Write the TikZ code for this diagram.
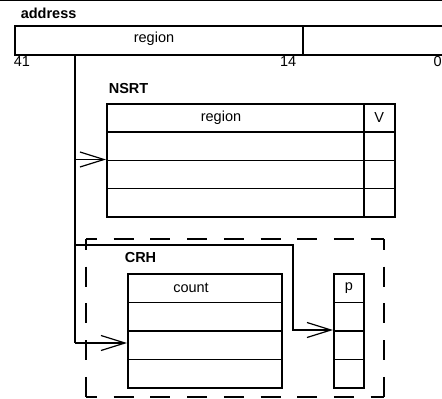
\documentclass[tikz,border=0pt]{standalone}
\usepackage{fontspec}
\setmainfont{Liberation Sans}
\usetikzlibrary{arrows.meta}
\begin{document}
\begin{tikzpicture}[x=1pt,y=-1pt,
  line width=1.6pt,
  every node/.style={font=\fontsize{14.5}{16}\selectfont, inner sep=0pt},
  cell/.style={draw, line width=1.6pt, anchor=north west, minimum height=28.5pt},
  lbl/.style={font=\fontsize{14.5}{16}\selectfont\bfseries, anchor=west},
  num/.style={anchor=center},
  arr/.style={-{Straight Barb[length=24pt,width=15pt,line width=1.2pt]}},
  frame/.style={draw, dash pattern=on 20pt off 16.7pt, dash phase=9pt, line width=1.6pt}
]
\useasboundingbox (0,0) rectangle (442,399);
% top rule
\draw[line width=1.2pt] (0,0.8) coordinate (t1) -- (442,0.8) coordinate (t2);

% address
\node[lbl] (addrlbl) at (20,13) {address};
\node[cell, minimum width=288pt, minimum height=29pt] (a1) at (14,25) {};
\node[cell, minimum width=141pt, minimum height=29pt] (a2) at (302,25) {};
\node (a1t) at (154,39) {region};
\node[num] (n41) at (22,62) {41};
\node[num, anchor=east] (n14) at (297,62) {14};
\node[num, anchor=east] (n0) at (442.5,62) {0};

% NSRT
\node[lbl] (nsrtlbl) at (108,89) {NSRT};
\foreach \i/\y in {1/103,2/131.25,3/159.5,4/187.75}{
  \node[cell, minimum width=257pt, minimum height=28.25pt] (r\i) at (106,\y) {};
  \node[cell, minimum width=31pt, minimum height=28.25pt] (v\i) at (363,\y) {};
}
\node (r1t) at (221,117.5) {region};
\node (v1t) at (v1.center) {V};

% CRH frame
\coordinate (f1) at (86,239);
\coordinate (f2) at (384,239);
\coordinate (f3) at (384,397);
\coordinate (f4) at (86,397);
\draw[frame] (f1) -- (f2);
\draw[frame] (f4) -- (f3);
\draw[frame] (f1) -- (f4);
\draw[frame] (f2) -- (f3);
\node[lbl] (crhlbl) at (124,258) {CRH};
\foreach \i/\y in {1/273,2/301.5,3/330,4/358.5}{
  \node[cell, minimum width=154pt] (c\i) at (127,\y) {};
  \node[cell, minimum width=30pt] (p\i) at (333,\y) {};
}
\node (c1t) at (191,287.5) {count};
\node (p1t) at (p1.center) {p};

% connectors
\coordinate (s0) at (75,54);
\coordinate (s1) at (75,159.5);
\coordinate (s2) at (75,245);
\coordinate (s3) at (75,343);
\coordinate (b1) at (293,245);
\coordinate (b2) at (293,330);
\draw (s0) -- (s3);
\draw[arr] (s1) -- (r3.north west);
\draw[arr] (s3) -- (c3.west |- s3);
\draw[arr] (s2) -- (b1) -- (b2) -- (p3.north west);
\end{tikzpicture}
\end{document}
